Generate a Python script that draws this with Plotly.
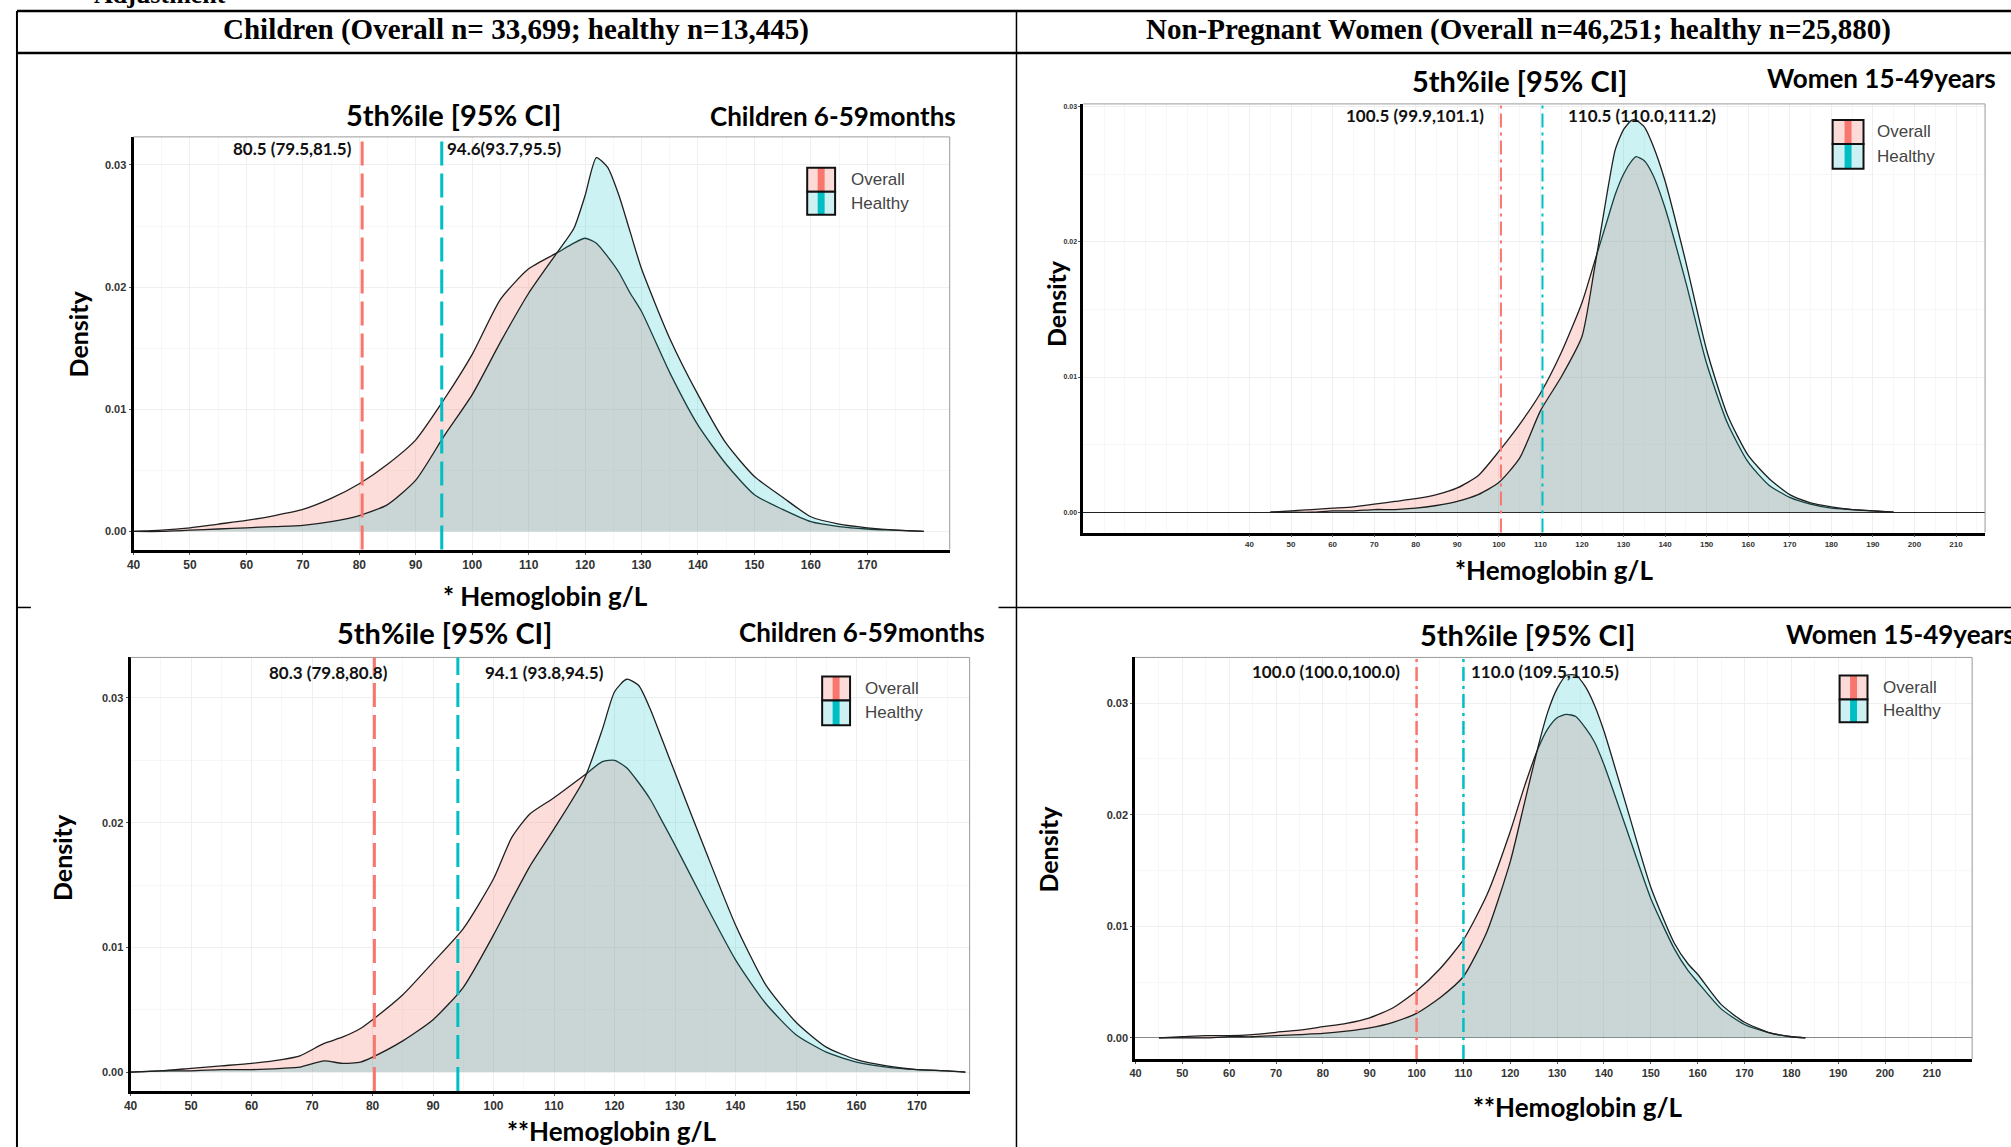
import plotly.graph_objects as go

W, H = 2011, 1147

# ---------------- data ----------------
# Panel 1: Children, first adjustment (*)
p1_x = [40, 45, 50, 55, 60, 65, 70, 75, 80, 85, 90, 95, 100, 105, 110, 115, 118, 120, 122, 124, 126, 128, 130,
        135, 140, 145, 150, 155, 160, 165, 170, 175, 180]
p1_overall = [0.0, 0.0001, 0.0003, 0.0006, 0.0009, 0.0013, 0.0018, 0.0027, 0.0039, 0.0055, 0.0075, 0.0108,
              0.0145, 0.0190, 0.0215, 0.0228, 0.0236, 0.0240, 0.0236, 0.0225, 0.0212, 0.0195, 0.0180,
              0.0130, 0.0087, 0.0055, 0.0030, 0.0018, 0.0008, 0.0004, 0.0002, 0.0001, 0.0]
p1_healthy = [0.0, 0.0, 0.0001, 0.0002, 0.0003, 0.0004, 0.0005, 0.0008, 0.0013, 0.0022, 0.0042, 0.0078,
              0.0112, 0.0155, 0.0195, 0.0228, 0.0248, 0.0275, 0.0306, 0.0298, 0.0275, 0.0245, 0.0215,
              0.0158, 0.0112, 0.0072, 0.0045, 0.0028, 0.0012, 0.0006, 0.0003, 0.0001, 0.0]
p1_cuts = [80.5, 94.6]
p1_cut_labels = ["80.5 (79.5,81.5)", "94.6(93.7,95.5)"]

# Panel 2: Non-pregnant women, first adjustment (*)
p2_x = [45, 50, 55, 60, 65, 70, 75, 80, 85, 90, 95, 100, 105, 110, 115, 120, 123, 126, 128, 130, 132, 133,
        135, 137, 140, 145, 150, 155, 160, 165, 170, 175, 180, 185, 190, 195]
p2_overall = [0.0, 0.0001, 0.0002, 0.0003, 0.0004, 0.0006, 0.0008, 0.0010, 0.0013, 0.0018, 0.0027, 0.0045,
              0.0065, 0.0088, 0.0118, 0.0155, 0.0185, 0.0215, 0.0235, 0.0250, 0.0260, 0.0263,
              0.0260, 0.0250, 0.0225, 0.0170, 0.0110, 0.0066, 0.0037, 0.0020, 0.0011, 0.0006, 0.0003,
              0.0002, 0.0001, 0.0]
p2_healthy = [0.0, 0.0, 0.0, 0.0001, 0.0001, 0.0002, 0.0002, 0.0003, 0.0005, 0.0008, 0.0013, 0.0022,
              0.0040, 0.0075, 0.0100, 0.0130, 0.0180, 0.0235, 0.0268, 0.0283, 0.0290, 0.0290,
              0.0285, 0.0272, 0.0245, 0.0185, 0.0120, 0.0072, 0.0042, 0.0025, 0.0013, 0.0007, 0.0004,
              0.0002, 0.0001, 0.0]
p2_cuts = [100.5, 110.5]
p2_cut_labels = ["100.5 (99.9,101.1)", "110.5 (110.0,111.2)"]

# Panel 3: Children, second adjustment (**)
p3_x = [40, 45, 50, 55, 60, 65, 68, 72, 75, 78, 80, 85, 90, 95, 100, 103, 106, 110, 115, 118, 120, 122, 124,
        126, 128, 130, 135, 140, 145, 150, 155, 160, 165, 170, 175, 178]
p3_overall = [0.0, 0.0001, 0.0003, 0.0005, 0.0007, 0.0010, 0.0013, 0.0023, 0.0028, 0.0035, 0.0042, 0.0062,
              0.0088, 0.0115, 0.0155, 0.0188, 0.0207, 0.0220, 0.0238, 0.0249, 0.0250, 0.0244, 0.0232,
              0.0218, 0.0200, 0.0182, 0.0135, 0.0090, 0.0055, 0.0030, 0.0016, 0.0008, 0.0004, 0.0002,
              0.0001, 0.0]
p3_healthy = [0.0, 0.0001, 0.0001, 0.0002, 0.0002, 0.0003, 0.0004, 0.0009, 0.0007, 0.0008, 0.0012, 0.0025,
              0.0042, 0.0068, 0.0110, 0.0138, 0.0165, 0.0195, 0.0235, 0.0275, 0.0305, 0.0315, 0.0310,
              0.0290, 0.0265, 0.0240, 0.0178, 0.0118, 0.0070, 0.0040, 0.0020, 0.0010, 0.0005, 0.0002,
              0.0001, 0.0]
p3_cuts = [80.3, 94.1]
p3_cut_labels = ["80.3 (79.8,80.8)", "94.1 (93.8,94.5)"]

# Panel 4: Non-pregnant women, second adjustment (**)
p4_x = [45, 50, 55, 60, 65, 70, 75, 80, 85, 90, 95, 100, 105, 110, 115, 120, 123, 126, 128, 130, 132, 134,
        136, 138, 140, 145, 150, 155, 158, 160, 165, 170, 175, 180, 183]
p4_overall = [0.0, 0.0001, 0.0002, 0.0002, 0.0003, 0.0005, 0.0007, 0.0010, 0.0013, 0.0018, 0.0027, 0.0042,
              0.0062, 0.0088, 0.0128, 0.0185, 0.0225, 0.0260, 0.0277, 0.0287, 0.0290, 0.0288,
              0.0278, 0.0265, 0.0245, 0.0185, 0.0125, 0.0080, 0.0060, 0.0050, 0.0026, 0.0012, 0.0005,
              0.0001, 0.0]
p4_healthy = [0.0, 0.0, 0.0, 0.0001, 0.0001, 0.0002, 0.0003, 0.0004, 0.0006, 0.0009, 0.0014, 0.0022,
              0.0036, 0.0055, 0.0095, 0.0158, 0.0210, 0.0262, 0.0292, 0.0313, 0.0325, 0.0325,
              0.0315, 0.0298, 0.0275, 0.0205, 0.0135, 0.0085, 0.0066, 0.0057, 0.0030, 0.0014, 0.0005,
              0.0001, 0.0]
p4_cuts = [100.0, 110.0]
p4_cut_labels = ["100.0 (100.0,100.0)", "110.0 (109.5,110.5)"]

x_ticks_children = list(range(40, 171, 10))
x_ticks_women = list(range(40, 211, 10))
y_ticks = [0.0, 0.01, 0.02, 0.03]
series_names = ["Overall", "Healthy"]

col_headers = ["Children (Overall n= 33,699; healthy n=13,445)",
               "Non-Pregnant Women (Overall n=46,251; healthy n=25,880)"]
panel_title = "5th%ile [95% CI]"
group_labels = ["Children 6-59months", "Women 15-49years", "Children 6-59months", "Women 15-49years"]
x_titles = ["* Hemoglobin g/L", "*Hemoglobin g/L", "**Hemoglobin g/L", "**Hemoglobin g/L"]

# ---------------- style ----------------
RED = "#F8766D"
TEAL = "#00BFC4"
FILL_RED = "rgba(248,118,109,0.25)"
FILL_TEAL = "rgba(0,191,196,0.20)"
CURVE = "#1f1f1f"
SANS = "Lato"


def px_x(p):
    return p / W


def px_y(p):
    return 1 - p / H


panels = [
    dict(x=p1_x, ov=p1_overall, he=p1_healthy, cuts=p1_cuts, labels=p1_cut_labels,
         box=(127, 946, 136, 549), xr=[40, 184.6], yr=[-0.00148, 0.0323], xt=x_ticks_children,
         axw=3, tick=12, ytick=11, dash="24px,8px", cutw=3, zeroline=None,
         lab_y=148, lab_size=17, lab_shift=(-8, 3),
         title=(448, 114), group=(829, 115), gsize=26, xtitle=(540, 596), ytitle=(71, 333),
         legend=(803, 831, 167, 191, 214, 845)),
    dict(x=p2_x, ov=p2_overall, he=p2_healthy, cuts=p2_cuts, labels=p2_cut_labels,
         box=(1080, 1985, 103, 532), xr=[0, 217], yr=[-0.0015, 0.0302], xt=x_ticks_women,
         axw=2.5, tick=8, ytick=7, dash="14px,5px,3px,5px", cutw=2, zeroline="#222222",
         lab_y=115, lab_size=17, lab_shift=(-15, 24),
         title=(1518, 80), group=(1881, 77), gsize=26, xtitle=(1552, 569), ytitle=(1052, 303),
         legend=(1832, 1863, 119, 143, 168, 1875)),
    dict(x=p3_x, ov=p3_overall, he=p3_healthy, cuts=p3_cuts, labels=p3_cut_labels,
         box=(124, 966, 657, 1091), xr=[40, 178.7], yr=[-0.00152, 0.03325], xt=x_ticks_children,
         axw=3, tick=12, ytick=11, dash="24px,8px", cutw=3, zeroline=None,
         lab_y=672, lab_size=17, lab_shift=(16, 25),
         title=(439, 632), group=(858, 632), gsize=26, xtitle=(607, 1131), ytitle=(55, 857),
         legend=(818, 846, 676, 700, 725, 859)),
    dict(x=p4_x, ov=p4_overall, he=p4_healthy, cuts=p4_cuts, labels=p4_cut_labels,
         box=(1132, 1972, 657, 1059), xr=[39.9, 218.6], yr=[-0.0019, 0.0341], xt=x_ticks_women,
         axw=2.5, tick=11, ytick=11, dash="14px,5px,3px,5px", cutw=2.5, zeroline="#8a8a8a",
         lab_y=671, lab_size=17, lab_shift=(-15, 6),
         title=(1526, 634), group=(1783, 634), gsize=26, xtitle=(1576, 1107), ytitle=(1045, 849),
         legend=(1839, 1867, 675, 699, 722, 1881)),
]

fig = go.Figure()
shapes = []
annotations = []


def ann(text, x, y, size, family=SANS, bold=True, color="#000", xanchor="center", yanchor="middle",
        angle=0):
    annotations.append(dict(text=text, x=px_x(x), y=px_y(y), xref="paper", yref="paper",
                            showarrow=False, xanchor=xanchor, yanchor=yanchor, textangle=angle,
                            font=dict(family=family, size=size, color=color,
                                      weight="bold" if bold else "normal")))


for i, p in enumerate(panels):
    n = "" if i == 0 else str(i + 1)
    xa, ya = "x" + n, "y" + n
    fig.add_trace(go.Scatter(x=p["x"], y=p["ov"], xaxis=xa, yaxis=ya, mode="lines", name=series_names[0],
                             line=dict(color=CURVE, width=1.3, shape="spline", smoothing=0.6),
                             fill="tozeroy", fillcolor=FILL_RED, hoverinfo="skip"))
    fig.add_trace(go.Scatter(x=p["x"], y=p["he"], xaxis=xa, yaxis=ya, mode="lines", name=series_names[1],
                             line=dict(color=CURVE, width=1.3, shape="spline", smoothing=0.6),
                             fill="tozeroy", fillcolor=FILL_TEAL, hoverinfo="skip"))
    l, r, t, b = p["box"]
    fig.layout["xaxis" + n] = dict(
        domain=[px_x(l), px_x(r)], range=p["xr"], anchor=ya, tickvals=p["xt"],
        ticktext=[str(v) for v in p["xt"]], showline=True, linecolor="#000", linewidth=p["axw"],
        showgrid=True, gridcolor="#efefef", gridwidth=1, zeroline=False,
        ticks="outside", ticklen=2, tickcolor="#555",
        tickfont=dict(family="Liberation Sans", size=p["tick"], color="#333", weight="bold"),
        minor=dict(showgrid=True, gridcolor="#f7f7f7", dtick=5),
    )
    fig.layout["yaxis" + n] = dict(
        domain=[px_y(b), px_y(t)], range=p["yr"], anchor=xa, tickvals=y_ticks,
        ticktext=["%.2f" % v for v in y_ticks], showline=True, linecolor="#000", linewidth=p["axw"],
        showgrid=True, gridcolor="#efefef", gridwidth=1,
        zeroline=p["zeroline"] is not None, zerolinecolor=p["zeroline"] or "#000", zerolinewidth=1.4,
        ticks="outside", ticklen=2, tickcolor="#555",
        tickfont=dict(family="Liberation Sans", size=p["ytick"], color="#333", weight="bold"),
        minor=dict(showgrid=True, gridcolor="#f7f7f7", dtick=0.005),
    )
    # thin grey frame on top and right
    shapes.append(dict(type="line", xref=xa + " domain", yref=ya + " domain", x0=0, x1=1, y0=1, y1=1,
                       line=dict(color="#9a9a9a", width=1)))
    shapes.append(dict(type="line", xref=xa + " domain", yref=ya + " domain", x0=1, x1=1, y0=0, y1=1,
                       line=dict(color="#9a9a9a", width=1)))
    # 5th percentile lines
    for cut, col in zip(p["cuts"], [RED, TEAL]):
        shapes.append(dict(type="line", xref=xa, yref=ya + " domain", x0=cut, x1=cut, y0=0, y1=1,
                           line=dict(color=col, width=p["cutw"], dash=p["dash"])))
    # CI labels
    for k, (cut, txt) in enumerate(zip(p["cuts"], p["labels"])):
        annotations.append(dict(text=txt, x=cut, y=px_y(p["lab_y"]), xref=xa, yref="paper",
                                showarrow=False, xanchor="right" if k == 0 else "left", yanchor="middle",
                                xshift=p["lab_shift"][k],
                                font=dict(family=SANS, size=p["lab_size"], color="#111", weight="bold")))
    # titles
    ann(panel_title, p["title"][0], p["title"][1], 29)
    ann(group_labels[i], p["group"][0], p["group"][1], p["gsize"],
        xanchor="left" if i == 3 else "center")
    ann(x_titles[i], p["xtitle"][0], p["xtitle"][1], 26)
    ann("Density", p["ytitle"][0], p["ytitle"][1], 25, angle=-90)
    # custom legend keys
    lx0, lx1, ly0, ly1, ly2, tx = p["legend"]
    cx = (lx0 + lx1) / 2
    for (ya0, ya1), light, strong, name in [((ly0, ly1), "#fcdad7", RED, series_names[0]),
                                            ((ly1, ly2), "#cdf1f2", TEAL, series_names[1])]:
        shapes.append(dict(type="rect", xref="paper", yref="paper", x0=px_x(lx0), x1=px_x(lx1),
                           y0=px_y(ya1), y1=px_y(ya0), fillcolor=light, line=dict(width=0)))
        shapes.append(dict(type="rect", xref="paper", yref="paper", x0=px_x(cx - 3.5), x1=px_x(cx + 3.5),
                           y0=px_y(ya1), y1=px_y(ya0), fillcolor=strong, line=dict(width=0)))
        shapes.append(dict(type="rect", xref="paper", yref="paper", x0=px_x(lx0), x1=px_x(lx1),
                           y0=px_y(ya1), y1=px_y(ya0), fillcolor="rgba(0,0,0,0)",
                           line=dict(color="#111", width=2)))
        ann(name, tx, (ya0 + ya1) / 2, 17, family="Liberation Sans", bold=False, color="#444",
            xanchor="left")


# ---------------- table frame ----------------
def hline(y, x0, x1, w=2):
    shapes.append(dict(type="line", xref="paper", yref="paper", x0=px_x(x0), x1=px_x(x1),
                       y0=px_y(y), y1=px_y(y), line=dict(color="#000", width=w)))


def vline(x, y0, y1, w=2):
    shapes.append(dict(type="line", xref="paper", yref="paper", x0=px_x(x), x1=px_x(x),
                       y0=px_y(y0), y1=px_y(y1), line=dict(color="#000", width=w)))


hline(10, 10, 2011, 2.5)
hline(52, 10, 2011, 2.5)
vline(10, 10, 1147, 2)
vline(1013, 10, 1147, 1.5)
hline(607, 1013, 2011, 1.5)
hline(607, 10, 24, 1.5)
hline(607, 995, 1013, 1.5)

ann(col_headers[0], 511, 29, 29, family="Liberation Serif")
ann(col_headers[1], 1517, 29, 29, family="Liberation Serif")
ann("Adjustment", 154, 10, 26, family="Liberation Serif", yanchor="bottom")

fig.update_layout(width=W, height=H, margin=dict(l=0, r=0, t=0, b=0), showlegend=False,
                  paper_bgcolor="white", plot_bgcolor="white", shapes=shapes, annotations=annotations)

fig.write_html("out.html", config={"displayModeBar": False},
               post_script="document.body.style.margin='0px';document.body.style.overflow='hidden';")
